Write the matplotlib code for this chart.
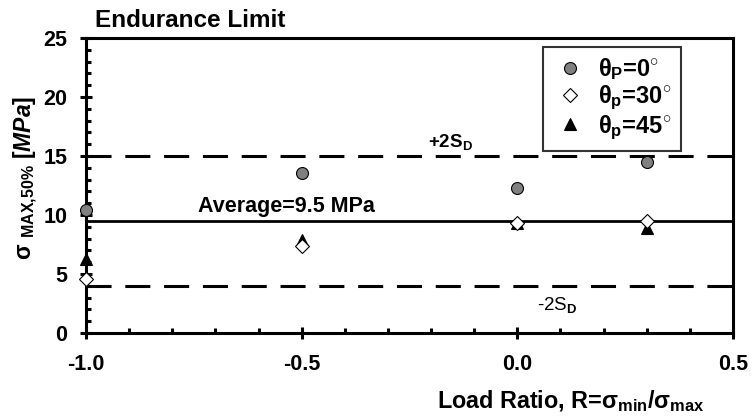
import matplotlib.pyplot as plt
from matplotlib.ticker import MultipleLocator

plt.rcParams['font.family'] = 'Liberation Sans'
plt.rcParams['font.weight'] = 'bold'
plt.rcParams['axes.titleweight'] = 'bold'
plt.rcParams['axes.labelweight'] = 'bold'
plt.rcParams['mathtext.fontset'] = 'custom'
plt.rcParams['mathtext.rm'] = 'Liberation Sans'
plt.rcParams['mathtext.bf'] = 'Liberation Sans:bold'
plt.rcParams['mathtext.it'] = 'Liberation Sans:italic'
plt.rcParams['mathtext.default'] = 'bf'

# load ratio R and endurance limit (MPa) per orientation
R = [-1.0, -0.5, 0.0, 0.3]
theta_0 = [10.4, 13.6, 12.3, 14.5]
theta_30 = [4.6, 7.4, 9.3, 9.5]
theta_45 = [6.3, 7.9, 9.3, 8.9]

avg = 9.5
upper = 15.0
lower = 4.0

fig = plt.figure(figsize=(7.53, 4.19), dpi=100)
ax = fig.add_axes([0.1142, 0.2053, 0.8592, 0.704])

dash = (8.2, 4.5)
ax.axhline(upper, color='black', lw=2.2, ls=(0, dash), zorder=1)
ax.axhline(lower, color='black', lw=2.2, ls=(0, dash), zorder=1)
ax.axhline(avg, color='black', lw=2.0, zorder=1)

ax.plot(R, theta_0, 'o', ms=8.6, mfc='#808080', mec='black', mew=0.8,
        label=r'$\theta_P$=0$^{\mathrm{\circ}}$', clip_on=False, zorder=3)
ax.plot(R, theta_30, 'D', ms=7, mfc='white', mec='black', mew=0.8,
        label=r'$\theta_p$=30$^{\mathrm{\circ}}$', clip_on=False, zorder=4)
ax.plot(R, theta_45, '^', ms=8.5, mfc='black', mec='black', mew=0.8,
        label=r'$\theta_p$=45$^{\mathrm{\circ}}$', clip_on=False, zorder=3)

ax.text(-0.154, 15.76, r'+2S$_D$', fontsize=13.5, ha='center', va='baseline')
ax.text(0.092, 1.95, r'-2S$_\mathrm{D}$', fontsize=13.5, ha='center',
        va='baseline', fontweight='normal')
ax.text(-0.536, 10.25, 'Average=9.5 MPa', fontsize=15.5, ha='center',
        va='baseline')

ax.set_xlim(-1.0, 0.5)
ax.set_ylim(0, 25)
ax.xaxis.set_major_locator(MultipleLocator(0.5))
ax.xaxis.set_minor_locator(MultipleLocator(0.1))
ax.yaxis.set_major_locator(MultipleLocator(5))
ax.yaxis.set_minor_locator(MultipleLocator(1))
ax.xaxis.set_major_formatter(plt.FormatStrFormatter('%.1f'))

ax.tick_params(which='major', direction='inout', length=8, width=2.2,
               labelsize=15.5)
ax.tick_params(axis='y', which='major', pad=9.5)
ax.tick_params(axis='x', which='major', pad=11)
ax.tick_params(which='minor', direction='in', length=3.5, width=2.2)
for s in ax.spines.values():
    s.set_linewidth(2.2)

ax.set_title('Endurance Limit', fontsize=17.5, loc='left', x=0.014, y=1.0,
             pad=8)
ax.set_xlabel(r'Load Ratio, R=$\sigma_{min}$/$\sigma_{max}$', fontsize=16.8)
ax.xaxis.set_label_coords(0.75, -0.186)
ax.set_ylabel(r'$\sigma$ $_{MAX{,}50\%}$ $\mathit{[MPa]}$', fontsize=16.5)
ax.yaxis.set_label_coords(-0.071, 0.525)

leg = ax.legend(loc='upper left', bbox_to_anchor=(0.706, 0.969), fontsize=17,
                frameon=True, fancybox=False, edgecolor='black',
                borderaxespad=0, handletextpad=0.45, borderpad=0.4,
                labelspacing=0.05, handlelength=1.5)
leg.get_frame().set_linewidth(1.5)

fig.savefig('out.png', dpi=100)
